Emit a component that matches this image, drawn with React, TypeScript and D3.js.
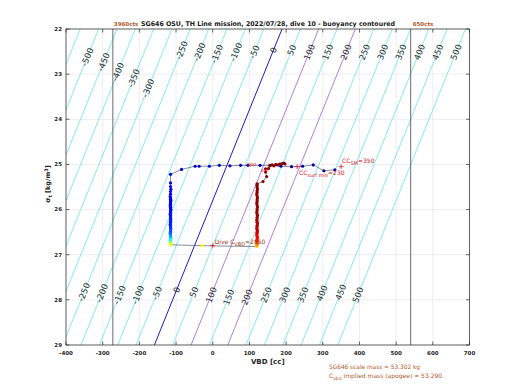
import React from 'react';
import * as d3 from 'd3';

// axes
const xTicks = [-400, -300, -200, -100, 0, 100, 200, 300, 400, 500, 600, 700];
const yTicks = [22, 23, 24, 25, 26, 27, 28, 29];

// buoyancy model: B = VBD + dBdSigma * (sigma - sigmaNeutral)
const dBdSigma = 49.7;
const sigmaNeutral = 25.8;
const cyanLevels = [-600, -550, -500, -450, -400, -350, -300, -250, -200, -150, -100, -50, 50, 150, 250, 300, 350, 400, 450, 500];
const blueLevels = [0];
const purpleLevels = [100, 200];

const topLabelLevels = [-500, -450, -400, -350, -300, -250, -200, -150, -100, -50, 0, 50, 100, 150, 200, 250, 300, 350, 400, 450, 500];
const topLabelSigma = [22.62, 22.73, 22.95, 23.09, 23.31, 22.47, 22.51, 22.55, 22.51, 22.51, 22.47, 22.47, 22.51, 22.51, 22.51, 22.51, 22.51, 22.51, 22.51, 22.51, 22.51];
const bottomLabelLevels = [-250, -200, -150, -100, -50, 0, 50, 100, 150, 200, 250, 300, 350, 400, 450, 500];
const bottomLabelSigma = [27.83, 27.85, 27.89, 27.89, 27.85, 27.78, 27.83, 27.89, 27.94, 27.94, 27.89, 27.89, 27.89, 27.85, 27.83, 27.89];

// pump limits and reference counts
const cVbd = 2850;
const vbdPerCount = 0.2453;
const minCounts = 3960;
const maxCounts = 650;
const ccSM = 350;
const ccSurfMin = 230;
const surfaceSigma = 25.05;
const apogeeSigma = 26.8;

// dive profile, in time order (t = fraction of dive time)
const surfVbd = [333, 303, 274, 245, 215, 186, 156, 129, 96, 76, 47, 18, -9, -37, -48, -85, -115];
const surfSigma = [25.12, 25.14, 25.01, 25.04, 25.05, 25.04, 25.02, 25.02, 25.02, 25.02, 25.03, 25.02, 25.04, 25.04, 25.04, 25.11, 25.22];
const surfTime = [0.02, 0.025, 0.03, 0.035, 0.04, 0.045, 0.05, 0.055, 0.06, 0.065, 0.07, 0.075, 0.08, 0.085, 0.09, 0.095, 0.1];

const descSigma = [25.41, 25.49, 25.55, 25.6, 25.66, 25.71, 25.74, 25.77, 25.8, 25.82, 25.85, 25.88, 25.9, 25.93, 25.95, 25.98,
  26.01, 26.03, 26.06, 26.08, 26.11, 26.13, 26.16, 26.18, 26.21, 26.23, 26.26, 26.28, 26.3, 26.33, 26.35, 26.38, 26.4, 26.43,
  26.45, 26.48, 26.5, 26.53, 26.55, 26.58, 26.6, 26.62, 26.64, 26.66, 26.68, 26.7, 26.72, 26.73, 26.75, 26.76, 26.77, 26.78];
const descVbd = [-115, -115, -114, -115, -115, -116, -115, -115, -114, -115, -115, -115, -116, -115, -115, -115,
  -114, -115, -115, -115, -116, -115, -115, -115, -114, -115, -115, -115, -115, -116, -115, -115, -115, -114,
  -115, -115, -115, -116, -115, -115, -115, -114, -115, -115, -115, -115, -116, -115, -115, -114, -115, -115];
const descTime = [0.1, 0.102, 0.104, 0.106, 0.108, 0.11, 0.112, 0.114, 0.116, 0.118, 0.12, 0.122, 0.124, 0.126, 0.128, 0.13,
  0.132, 0.134, 0.136, 0.138, 0.14, 0.142, 0.144, 0.146, 0.148, 0.15, 0.152, 0.154, 0.156, 0.158, 0.16, 0.165, 0.17, 0.18,
  0.19, 0.2, 0.21, 0.22, 0.24, 0.26, 0.28, 0.3, 0.33, 0.36, 0.39, 0.42, 0.45, 0.49, 0.52, 0.55, 0.58, 0.61];

const apoVbd = [-29, 120];
const apoSigma = [26.8, 26.82];
const apoTime = [0.63, 0.66];

const ascSigma = [26.8, 26.78, 26.76, 26.74, 26.72, 26.7, 26.68, 26.65, 26.62, 26.59, 26.56, 26.53, 26.5, 26.47, 26.44, 26.41,
  26.38, 26.35, 26.31, 26.28, 26.24, 26.21, 26.17, 26.13, 26.1, 26.06, 26.02, 25.98, 25.94, 25.9, 25.86, 25.82, 25.78, 25.74,
  25.7, 25.66, 25.62, 25.58, 25.54, 25.5, 25.46, 25.43, 25.38, 25.27, 25.17, 25.1];
const ascVbd = [121, 120, 121, 122, 121, 120, 121, 121, 122, 121, 120, 121, 121, 122, 121, 120,
  121, 121, 122, 121, 120, 121, 121, 122, 121, 120, 121, 121, 122, 121, 120, 121, 121, 122,
  121, 120, 121, 121, 122, 121, 121, 121, 137, 147, 144, 144];
const ascTime = [0.69, 0.72, 0.75, 0.78, 0.8, 0.82, 0.84, 0.86, 0.87, 0.88, 0.89, 0.9, 0.91, 0.92, 0.93, 0.935,
  0.94, 0.945, 0.95, 0.953, 0.956, 0.959, 0.962, 0.965, 0.967, 0.969, 0.971, 0.973, 0.975, 0.977, 0.979, 0.98, 0.981, 0.982,
  0.983, 0.984, 0.985, 0.986, 0.987, 0.988, 0.989, 0.99, 0.99, 0.99, 0.99, 0.99];

const endVbd = [152, 156, 162, 167, 172, 178, 183, 189, 194, 197];
const endSigma = [25.09, 25.03, 25.01, 25.03, 25.0, 25.01, 24.99, 24.98, 24.97, 24.99];
const endTime = [0.992, 0.993, 0.994, 0.995, 0.996, 0.997, 0.998, 0.999, 1, 1];

const FONT = 'DejaVu Sans, sans-serif';
const BROWN = '#b0582a';

function jet(t: number) {
  const c = (v: number) => Math.round(255 * Math.max(0, Math.min(1, v)));
  return `rgb(${c(1.5 - Math.abs(4 * t - 3))},${c(1.5 - Math.abs(4 * t - 2))},${c(1.5 - Math.abs(4 * t - 1))})`;
}

export default function App() {
  const left = 66, right = 469.5, top = 29, bottom = 345;
  const x = d3.scaleLinear().domain([-400, 700]).range([left, right]);
  const y = d3.scaleLinear().domain([22, 29]).range([top, bottom]);

  const vbdAt = (level: number, s: number) => level - dBdSigma * (s - sigmaNeutral);
  const contour = (level: number) =>
    d3.line<number>().x((s) => x(vbdAt(level, s))).y((s) => y(s))([21, 30]) || '';

  // text angle along contour lines
  const dx = x(vbdAt(0, 22)) - x(vbdAt(0, 23));
  const dy = y(22) - y(23);
  const angle = (Math.atan2(dy, dx) * 180) / Math.PI;

  const pts: { v: number; s: number; t: number }[] = [];
  const push = (v: number[], s: number[], t: number[]) => v.forEach((d, i) => pts.push({ v: d, s: s[i], t: t[i] }));
  push(surfVbd, surfSigma, surfTime);
  push(descVbd, descSigma, descTime);
  push(apoVbd, apoSigma, apoTime);
  push(ascVbd, ascSigma, ascTime);
  push(endVbd, endSigma, endTime);
  const path = d3.line<{ v: number; s: number }>().x((d) => x(d.v)).y((d) => y(d.s))(pts) || '';

  const vMin = (cVbd - minCounts) * vbdPerCount;
  const vMax = (cVbd - maxCounts) * vbdPerCount;

  const plus = (cx: number, cy: number, color: string, key: string) => (
    <g key={key} stroke={color} strokeWidth={0.8}>
      <line x1={cx - 2.5} x2={cx + 2.5} y1={cy} y2={cy} />
      <line x1={cx} x2={cx} y1={cy - 2.5} y2={cy + 2.5} />
    </g>
  );

  return (
    <svg width={520} height={390} style={{ position: 'absolute', left: 0, top: 0, background: '#fff' }} fontFamily={FONT}>
      <defs>
        <clipPath id="plotClip">
          <rect x={left} y={top} width={right - left} height={bottom - top} />
        </clipPath>
      </defs>
      <rect x={0} y={0} width={520} height={390} fill="#fff" />

      {/* grid */}
      <g stroke="#e3e3e3" strokeWidth={0.6}>
        {xTicks.map((t) => <line key={'gx' + t} x1={x(t)} x2={x(t)} y1={top} y2={bottom} />)}
        {yTicks.map((t) => <line key={'gy' + t} x1={left} x2={right} y1={y(t)} y2={y(t)} />)}
      </g>

      <g clipPath="url(#plotClip)" fill="none">
        {cyanLevels.map((l) => <path key={'c' + l} d={contour(l)} stroke="#52e2e6" strokeWidth={0.7} />)}
        {purpleLevels.map((l) => <path key={'p' + l} d={contour(l)} stroke="#9a5fd8" strokeWidth={0.8} />)}
        {blueLevels.map((l) => <path key={'b' + l} d={contour(l)} stroke="#1a1acc" strokeWidth={1} />)}
        <line x1={x(vMin)} x2={x(vMin)} y1={top} y2={bottom} stroke="#5a5a5a" strokeWidth={0.9} />
        <line x1={x(vMax)} x2={x(vMax)} y1={top} y2={bottom} stroke="#5a5a5a" strokeWidth={0.9} />
      </g>

      {/* contour labels */}
      <g fontSize={8.5} fill="#2a2a2a" textAnchor="middle">
        {topLabelLevels.map((l, i) => (
          <text key={'tl' + l} dy="0.35em"
            transform={`translate(${x(vbdAt(l, topLabelSigma[i]))},${y(topLabelSigma[i])}) rotate(${angle})`}>{l}</text>
        ))}
        {bottomLabelLevels.map((l, i) => (
          <text key={'bl' + l} dy="0.35em"
            transform={`translate(${x(vbdAt(l, bottomLabelSigma[i]))},${y(bottomLabelSigma[i])}) rotate(${angle})`}>{l}</text>
        ))}
      </g>

      {/* dive profile */}
      <path d={path} fill="none" stroke="#3c3c5a" strokeWidth={0.6} />
      {pts.map((d, i) => <circle key={'pt' + i} cx={x(d.v)} cy={y(d.s)} r={1.6} fill={jet(d.t)} />)}

      {/* markers and annotations */}
      {plus(x(ccSM), y(surfaceSigma), '#e0141e', 'sm')}
      {plus(x(ccSurfMin), y(surfaceSigma), '#e0141e', 'sf')}
      {plus(x(0), y(apogeeSigma), '#e0141e', 'dv')}
      <g fill="#e0141e" fontSize={6}>
        <text x={x(ccSM) + 1} y={y(surfaceSigma) - 4}>CC<tspan dy={2} fontSize={5}>SM</tspan><tspan dy={-2}>=350</tspan></text>
        <text x={x(ccSurfMin) + 2} y={y(surfaceSigma) + 8}>CC<tspan dy={2} fontSize={5}>surf min</tspan><tspan dy={-2}>=230</tspan></text>
        <text x={247} y={y(25.0) + 2} fontSize={5}>apo</text>
        <text x={261} y={y(25.12) + 2} fontSize={5}>sm</text>
      </g>
      <text x={x(0) + 2} y={y(apogeeSigma) - 1.5} fontSize={6} fill="#9c3a12">Dive C<tspan dy={2} fontSize={5}>VBD</tspan><tspan dy={-2}>=2850</tspan></text>

      {/* axes frame and ticks */}
      <g stroke="#262626" strokeWidth={0.7} fill="none">
        <rect x={left} y={top} width={right - left} height={bottom - top} />
        {xTicks.map((t) => (
          <g key={'tx' + t}>
            <line x1={x(t)} x2={x(t)} y1={bottom} y2={bottom - 3.5} />
            <line x1={x(t)} x2={x(t)} y1={top} y2={top + 3.5} />
          </g>
        ))}
        {yTicks.map((t) => (
          <g key={'ty' + t}>
            <line x1={left} x2={left + 3.5} y1={y(t)} y2={y(t)} />
            <line x1={right} x2={right - 3.5} y1={y(t)} y2={y(t)} />
          </g>
        ))}
      </g>
      <g fontSize={5.5} fontWeight="bold" fill="#262626">
        {xTicks.map((t) => <text key={'xl' + t} x={x(t)} y={bottom + 10} textAnchor="middle">{t}</text>)}
        {yTicks.map((t) => <text key={'yl' + t} x={left - 4} y={y(t)} dy="0.35em" textAnchor="end">{t}</text>)}
      </g>
      <text x={(left + right) / 2} y={364} textAnchor="middle" fontSize={7} fontWeight="bold" fill="#262626">VBD [cc]</text>
      <text transform={`translate(50,184) rotate(-90)`} textAnchor="middle" fontSize={6.5} fontWeight="bold" fill="#262626">
        σ<tspan dy={1.5} fontSize={5}>t</tspan><tspan dy={-1.5}> [kg/m</tspan><tspan dy={-2} fontSize={5}>3</tspan><tspan dy={2}>]</tspan>
      </text>

      {/* title */}
      <text x={x(vMin) + 1} y={25.5} fontSize={5.5} fontWeight="bold" fill={BROWN}>{minCounts}cts</text>
      <text x={141} y={25.5} fontSize={6.5} fontWeight="bold" fill="#1a1a1a" textLength={254} lengthAdjust="spacingAndGlyphs">
        SG646 OSU, TH Line mission, 2022/07/28, dive 10 - buoyancy contoured
      </text>
      <text x={x(vMax) + 2} y={25.5} fontSize={5.5} fontWeight="bold" fill={BROWN}>{maxCounts}cts</text>

      {/* bottom notes */}
      <g fill={BROWN} fontSize={6}>
        <text x={329} y={369} textLength={91} lengthAdjust="spacingAndGlyphs">SG646 scale mass = 53.302 kg</text>
        <text x={329} y={378}>C<tspan dy={2} fontSize={4.5}>vbd</tspan><tspan dy={-2}> implied mass (apogee) = 53.290</tspan></text>
      </g>
    </svg>
  );
}
